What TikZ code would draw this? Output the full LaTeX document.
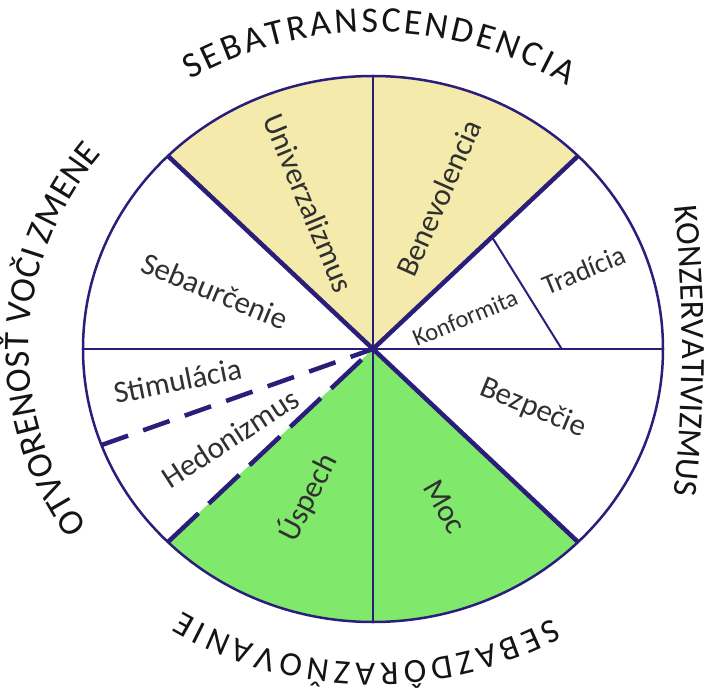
\documentclass[tikz,border=0pt]{standalone}
\usepackage{fontspec}
\setmainfont{Carlito}
\usetikzlibrary{decorations.text}
\definecolor{lineblue}{RGB}{43,30,122}
\definecolor{sand}{RGB}{243,234,172}
\definecolor{lgreen}{RGB}{128,232,106}
\definecolor{labelgray}{RGB}{48,48,48}
\definecolor{outerblack}{RGB}{20,20,20}
\newcommand\outerfnt{\fontsize{36}{36}\selectfont}
\newcommand\outerfntsm{\fontsize{34}{34}\selectfont}
\begin{document}
\begin{tikzpicture}[x=1pt,y=1pt,
  thinline/.style={draw=lineblue, line width=2pt},
  thickline/.style={draw=lineblue, line width=4.5pt},
  dashline/.style={draw=lineblue, line width=4.5pt, dash pattern=on 28pt off 16pt},
  dashlong/.style={draw=lineblue, line width=4.5pt, dash pattern=on 42pt off 14pt},
  seclabel/.style={text=labelgray, font=\fontsize{31}{33}\selectfont, inner sep=0pt},
  outerlabel/.style={decorate, decoration={text along path, text align={fit to path}, text color=outerblack}}
]
\useasboundingbox (-373,-339) rectangle (352,349);

\coordinate (O) at (0,0);
\coordinate (N) at (0,273);
\coordinate (S) at (0,-273);
\coordinate (E) at (290,0);
\coordinate (W) at (-290,0);
\coordinate (NE) at (45:290 and 273);
\coordinate (NW) at (135:290 and 273);
\coordinate (SE) at (-45:290 and 273);
\coordinate (SW) at (-135:290 and 273);
\coordinate (WSW) at (-271.3,-96);
\coordinate (K1) at (119,112);
\coordinate (K2) at (188.7,0);

% fills
\fill[sand] (O) -- (NE) arc[start angle=45, end angle=135, x radius=290, y radius=273] -- cycle;
\fill[lgreen] (O) -- (SW) arc[start angle=-135, end angle=-45, x radius=290, y radius=273] -- cycle;

% dividers
\draw[thinline] (N) -- (S);
\draw[thinline] (W) -- (E);
\draw[thinline] (K1) -- (K2);
\draw[thickline] (O) -- (NW);
\draw[thickline] (O) -- (NE);
\draw[thickline] (O) -- (SE);
\draw[dashlong] (SW) -- (O);
\draw[dashline] (WSW) -- (O);
\draw[draw=lineblue, line width=2.5pt] (O) ellipse [x radius=290, y radius=273];

% sector labels
\node[seclabel, rotate=-67.5] (univ) at (-64,146) {Univerzalizmus};
\node[seclabel, rotate=66] (bene) at (66,151) {Benevolencia};
\node[seclabel, rotate=-22.5] (seba) at (-158,58) {Sebaurčenie};
\node[seclabel, rotate=22.5, font=\fontsize{24.5}{26}\selectfont] (konf) at (92,31) {Konformita};
\node[seclabel, rotate=22.5, font=\fontsize{28}{30}\selectfont] (trad) at (211,79) {Tradícia};
\node[seclabel, rotate=11.25] (stim) at (-195.5,-31.7) {Stimulácia};
\node[seclabel, rotate=33] (hedo) at (-143,-89) {Hedonizmus};
\node[seclabel, rotate=-22.5] (bezp) at (160,-59) {Bezpečie};
\node[seclabel, rotate=63] (uspe) at (-66,-148) {Úspech};
\node[seclabel, rotate=-60] (moc) at (72,-158) {Moc};

% outer labels
\path[outerlabel, decoration={text={|\outerfnt|SEBATRANSCENDENCIA}}]
  (121.7:348 and 317) arc[start angle=121.7, end angle=56.1, x radius=348, y radius=317];
\path[outerlabel, decoration={text={|\outerfnt|OTVORENOSŤ VOČI ZMENE}}]
  (214:344 and 317) arc[start angle=214, end angle=142, x radius=344, y radius=317];
\path[outerlabel, decoration={text={|\outerfntsm|SEBAZDÔRAZŇOVANIE}}]
  (-59:348 and 314) arc[start angle=-59, end angle=-123.3, x radius=348, y radius=314];
\path[outerlabel, decoration={text={|\outerfntsm|KONZERVATIVIZMUS}}]
  (301.7,142.9) arc[start angle=5.86, end angle=-5.99, radius=1400];
\end{tikzpicture}
\end{document}
